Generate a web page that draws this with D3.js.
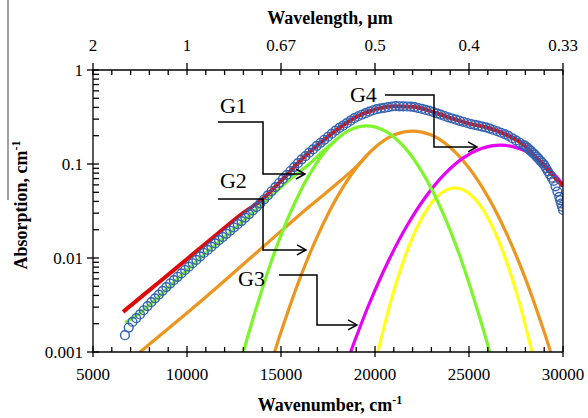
<!DOCTYPE html>
<html>
<head>
<meta charset="utf-8">
<script src="https://cdn.jsdelivr.net/npm/d3@7"></script>
<style>
  html, body { margin: 0; padding: 0; background: #fff; }
  svg { display: block; font-family: "Liberation Serif", "Times New Roman", serif; }
  .tick-label { font-size: 17px; fill: #000; font-family: "Liberation Serif", serif; }
  .axis-title { font-size: 18px; font-weight: bold; fill: #000; }
  .g-label { font-size: 22px; fill: #000; }
</style>
</head>
<body>
<div id="chart"></div>
<script>
// measured spectrum: [wavenumber cm-1, absorption cm-1]
const spectrum = [
  [6700, 0.00151], [6900, 0.00182], [7100, 0.00209], [7300, 0.00229], [7500, 0.00251],
  [7700, 0.00278], [7900, 0.00308], [8100, 0.00339], [8300, 0.00372], [8500, 0.00407],
  [8700, 0.00447], [8900, 0.0049], [9100, 0.00535], [9300, 0.00581], [9500, 0.00631],
  [9700, 0.00686], [9900, 0.00745], [10100, 0.00809], [10300, 0.00879], [10500, 0.00955],
  [10700, 0.0104], [10900, 0.0113], [11100, 0.0122], [11300, 0.0132], [11500, 0.0143],
  [11700, 0.0155], [11900, 0.0167], [12100, 0.0181], [12300, 0.0195], [12500, 0.0211],
  [12700, 0.0229], [12900, 0.0247], [13100, 0.0269], [13300, 0.0293], [13500, 0.032],
  [13700, 0.0349], [13900, 0.0381], [14100, 0.0419], [14300, 0.0463], [14500, 0.0513],
  [14700, 0.0568], [14900, 0.0628], [15100, 0.0693], [15300, 0.0764], [15500, 0.0841],
  [15700, 0.0927], [15900, 0.102], [16100, 0.112], [16300, 0.121], [16500, 0.132],
  [16700, 0.143], [16900, 0.156], [17100, 0.168], [17300, 0.181], [17500, 0.195],
  [17700, 0.21], [17900, 0.226], [18100, 0.242], [18300, 0.256], [18500, 0.272],
  [18700, 0.289], [18900, 0.307], [19100, 0.322], [19300, 0.334], [19500, 0.347],
  [19700, 0.36], [19900, 0.373], [20100, 0.383], [20300, 0.39], [20500, 0.396],
  [20700, 0.402], [20900, 0.409], [21100, 0.412], [21300, 0.411], [21500, 0.41],
  [21700, 0.409], [21900, 0.408], [22100, 0.403], [22300, 0.394], [22500, 0.385],
  [22700, 0.376], [22900, 0.367], [23100, 0.357], [23300, 0.346], [23500, 0.335],
  [23700, 0.324], [23900, 0.314], [24100, 0.305], [24300, 0.296], [24500, 0.288],
  [24700, 0.281], [24900, 0.273], [25100, 0.266], [25300, 0.261], [25500, 0.256],
  [25700, 0.25], [25900, 0.245], [26100, 0.238], [26300, 0.23], [26500, 0.223],
  [26700, 0.215], [26900, 0.208], [27100, 0.199], [27300, 0.188], [27500, 0.178],
  [27700, 0.168], [27900, 0.159], [28000, 0.155], [28100, 0.149], [28200, 0.143],
  [28300, 0.137], [28400, 0.131], [28500, 0.126], [28600, 0.12], [28700, 0.114],
  [28800, 0.108], [28900, 0.103], [29000, 0.0977], [29100, 0.0904], [29200, 0.0836],
  [29300, 0.0773], [29400, 0.0714], [29500, 0.0661], [29600, 0.0579], [29700, 0.0509],
  [29800, 0.0447], [29850, 0.0412], [29900, 0.038], [29950, 0.0351], [30000, 0.0324]
];

// total fit (red)
const fitLine = [
  [6600, 0.00267], [7660, 0.004], [9470, 0.00795], [11220, 0.0155], [12980, 0.0301],
  [13900, 0.0405], [15000, 0.0661], [16000, 0.107], [17000, 0.162], [18000, 0.234],
  [19000, 0.316], [20000, 0.38], [21000, 0.412], [22000, 0.407], [23000, 0.363],
  [24000, 0.309], [25000, 0.269], [26000, 0.243], [27000, 0.204], [28000, 0.155],
  [28500, 0.121], [29000, 0.095], [29500, 0.0745], [30000, 0.058]
];

// gaussian components
const bandG1 = [
  [13000, 0.001], [13550, 0.0024], [14550, 0.01], [15550, 0.0321], [16550, 0.0795],
  [17550, 0.152], [18550, 0.224], [19550, 0.255], [20550, 0.224], [21550, 0.152],
  [22550, 0.0795], [23550, 0.0321], [24550, 0.01], [25550, 0.0024], [26100, 0.001]
];
const tailG1 = [
  [6700, 0.00205], [7500, 0.0026], [8500, 0.0039], [9500, 0.006], [10500, 0.0092],
  [11500, 0.0138], [12500, 0.0203], [13500, 0.0305], [14500, 0.046], [15500, 0.069],
  [16500, 0.1], [17200, 0.135], [17900, 0.178]
];
const bandG2 = [
  [14660, 0.001], [15000, 0.00163], [16000, 0.00603], [17000, 0.0182], [18000, 0.045],
  [19000, 0.0908], [20000, 0.15], [21000, 0.203], [22000, 0.224], [23000, 0.203],
  [24000, 0.15], [25000, 0.0908], [26000, 0.045], [27000, 0.0182], [28000, 0.00603],
  [29000, 0.00163], [29340, 0.001]
];
const tailG2 = [
  [7500, 0.001], [10690, 0.0034], [14040, 0.0131], [16540, 0.0357], [18140, 0.0659],
  [19200, 0.1025], [19600, 0.126]
];
const bandG3 = [
  [20150, 0.001], [20750, 0.00297], [21250, 0.00647], [21750, 0.0125], [22250, 0.0214],
  [22750, 0.0325], [23250, 0.0438], [23750, 0.0524], [24250, 0.0556], [24750, 0.0524],
  [25250, 0.0438], [25750, 0.0325], [26250, 0.0214], [26750, 0.0125], [27250, 0.00647],
  [27750, 0.00297], [28350, 0.001]
];
const bandG4 = [
  [18700, 0.001], [19700, 0.00328], [20700, 0.00919], [21700, 0.022], [22700, 0.0448],
  [23700, 0.078], [24700, 0.116], [25700, 0.147], [26700, 0.159], [27700, 0.145],
  [28700, 0.112], [29500, 0.079], [30000, 0.06]
];

// axes
const xMajor = [5000, 10000, 15000, 20000, 25000, 30000];
const wavelengthLabels = ["2", "1", "0.67", "0.5", "0.4", "0.33"];
const yMajor = [0.001, 0.01, 0.1, 1];
const yLabels = ["0.001", "0.01", "0.1", "1"];

// callouts, anchored in data units: text spot then leader polyline
const callouts = [
  { label: "G1", text: [11755, 0.349], path: [[11649, 0.28], [14043, 0.28], [14043, 0.0783], [16277, 0.0783]] },
  { label: "G2", text: [11755, 0.0556], path: [[11649, 0.0424], [14043, 0.0424], [14043, 0.0122], [16330, 0.0122]] },
  { label: "G3", text: [12713, 0.00504], path: [[14894, 0.00659], [16915, 0.00659], [16915, 0.00194], [19043, 0.00194]] },
  { label: "G4", text: [18670, 0.457], path: [[20532, 0.542], [23138, 0.542], [23138, 0.152], [25426, 0.152]] }
];

const WIDTH = 588;
const HEIGHT = 418;
const LEFT = 93;
const RIGHT = 563;
const TOP = 70;
const BOTTOM = 352;

const x = d3.scaleLinear().domain([5000, 30000]).range([LEFT, RIGHT]);
const y = d3.scaleLog().domain([0.001, 1]).range([BOTTOM, TOP]);

const $svg = d3.select("#chart").append("svg")
  .attr("width", WIDTH)
  .attr("height", HEIGHT);

$svg.append("rect").attr("width", WIDTH).attr("height", HEIGHT).attr("fill", "#fff");

// stray rule at the far left of the original figure
$svg.append("line")
  .attr("x1", 8).attr("x2", 8).attr("y1", 0).attr("y2", 200)
  .attr("stroke", "#444").attr("stroke-width", 1);

$svg.append("clipPath").attr("id", "plot-clip")
  .append("rect")
  .attr("x", LEFT).attr("y", TOP)
  .attr("width", RIGHT - LEFT).attr("height", BOTTOM - TOP);

const $vis = $svg.append("g").attr("clip-path", "url(#plot-clip)");

const bandLine = d3.line()
  .x(d => x(d[0]))
  .y(d => y(d[1]))
  .curve(d3.curveCatmullRom.alpha(0.5));

const smoothLine = d3.line()
  .x(d => x(d[0]))
  .y(d => y(d[1]))
  .curve(d3.curveMonotoneX);

const bands = [
  { data: tailG2, color: "#ec9620", gen: smoothLine },
  { data: bandG2, color: "#ec9620", gen: bandLine },
  { data: bandG4, color: "#e600f5", gen: bandLine },
  { data: bandG3, color: "#ffff1a", gen: bandLine },
  { data: tailG1, color: "#7cf52a", gen: smoothLine },
  { data: bandG1, color: "#7cf52a", gen: bandLine }
];

$vis.selectAll(".band")
  .data(bands)
  .join("path")
  .attr("class", "band")
  .attr("d", d => d.gen(d.data))
  .attr("fill", "none")
  .attr("stroke", d => d.color)
  .attr("stroke-width", 3.2);

$vis.append("path")
  .attr("d", smoothLine(fitLine))
  .attr("fill", "none")
  .attr("stroke", "#dd0a0a")
  .attr("stroke-width", 4);

$vis.selectAll(".pt")
  .data(spectrum)
  .join("circle")
  .attr("class", "pt")
  .attr("cx", d => x(d[0]))
  .attr("cy", d => y(d[1]))
  .attr("r", 4.4)
  .attr("fill", "none")
  .attr("stroke", "#3262b2")
  .attr("stroke-width", 1.4);

// frame
const $axis = $svg.append("g").attr("stroke", "#000").attr("stroke-width", 1.3);
$axis.append("line").attr("x1", LEFT).attr("x2", RIGHT).attr("y1", BOTTOM).attr("y2", BOTTOM);
$axis.append("line").attr("x1", LEFT).attr("x2", RIGHT).attr("y1", TOP).attr("y2", TOP);
$axis.append("line").attr("x1", LEFT).attr("x2", LEFT).attr("y1", TOP).attr("y2", BOTTOM);
$axis.append("line").attr("x1", RIGHT).attr("x2", RIGHT).attr("y1", TOP).attr("y2", BOTTOM);

const xMinor = d3.range(5000, 30001, 1000).filter(v => v % 5000 !== 0);
const yMinor = [];
[0.001, 0.01, 0.1].forEach(dec => d3.range(2, 10).forEach(k => yMinor.push(dec * k)));

// bottom ticks
$axis.selectAll(".xb-major").data(xMajor).join("line")
  .attr("class", "xb-major")
  .attr("x1", d => x(d)).attr("x2", d => x(d))
  .attr("y1", BOTTOM - 6).attr("y2", BOTTOM + 5);
$axis.selectAll(".xb-minor").data(xMinor).join("line")
  .attr("class", "xb-minor")
  .attr("x1", d => x(d)).attr("x2", d => x(d))
  .attr("y1", BOTTOM - 5).attr("y2", BOTTOM);

// top ticks
$axis.selectAll(".xt-major").data(xMajor).join("line")
  .attr("class", "xt-major")
  .attr("x1", d => x(d)).attr("x2", d => x(d))
  .attr("y1", TOP - 7).attr("y2", TOP + 5);
$axis.selectAll(".xt-minor").data(xMinor).join("line")
  .attr("class", "xt-minor")
  .attr("x1", d => x(d)).attr("x2", d => x(d))
  .attr("y1", TOP).attr("y2", TOP + 5);

// left ticks
$axis.selectAll(".yl-major").data(yMajor).join("line")
  .attr("class", "yl-major")
  .attr("x1", LEFT - 6).attr("x2", LEFT + 6)
  .attr("y1", d => y(d)).attr("y2", d => y(d));
$axis.selectAll(".yl-minor").data(yMinor).join("line")
  .attr("class", "yl-minor")
  .attr("x1", LEFT).attr("x2", LEFT + 6)
  .attr("y1", d => y(d)).attr("y2", d => y(d));

// tick labels
$svg.selectAll(".xb-label").data(xMajor).join("text")
  .attr("class", "tick-label xb-label")
  .attr("x", d => x(d)).attr("y", BOTTOM + 28)
  .attr("text-anchor", "middle")
  .text(d => d);

$svg.selectAll(".xt-label").data(xMajor).join("text")
  .attr("class", "tick-label xt-label")
  .attr("x", d => x(d)).attr("y", TOP - 19)
  .attr("text-anchor", "middle")
  .text((d, i) => wavelengthLabels[i]);

$svg.selectAll(".yl-label").data(yMajor).join("text")
  .attr("class", "tick-label yl-label")
  .attr("x", LEFT - 10).attr("y", d => y(d) + 6)
  .attr("text-anchor", "end")
  .text((d, i) => yLabels[i]);

// titles
$svg.append("text")
  .attr("class", "axis-title")
  .attr("x", 330).attr("y", 24)
  .attr("text-anchor", "middle")
  .text("Wavelength, \u00b5m");

const $xt = $svg.append("text")
  .attr("class", "axis-title")
  .attr("x", 330).attr("y", 411)
  .attr("text-anchor", "middle");
$xt.append("tspan").text("Wavenumber,  cm");
$xt.append("tspan").attr("dy", -7).attr("font-size", 12).text("-1");

const $yt = $svg.append("text")
  .attr("class", "axis-title")
  .attr("transform", "translate(27, 205) rotate(-90)")
  .attr("text-anchor", "middle");
$yt.append("tspan").text("Absorption, cm");
$yt.append("tspan").attr("dy", -7).attr("font-size", 12).text("-1");

// callouts
const $notes = $svg.append("g");
callouts.forEach(c => {
  $notes.append("text")
    .attr("class", "g-label")
    .attr("x", x(c.text[0])).attr("y", y(c.text[1]))
    .text(c.label);

  const pts = c.path.map(p => [x(p[0]), y(p[1])]);
  $notes.append("path")
    .attr("d", d3.line()(pts))
    .attr("fill", "none")
    .attr("stroke", "#000")
    .attr("stroke-width", 1.5);

  const tip = pts[pts.length - 1];
  $notes.append("path")
    .attr("d", d3.line()([[tip[0] - 9, tip[1] - 5], tip, [tip[0] - 9, tip[1] + 5]]))
    .attr("fill", "none")
    .attr("stroke", "#000")
    .attr("stroke-width", 1.5);
});
</script>
</body>
</html>
